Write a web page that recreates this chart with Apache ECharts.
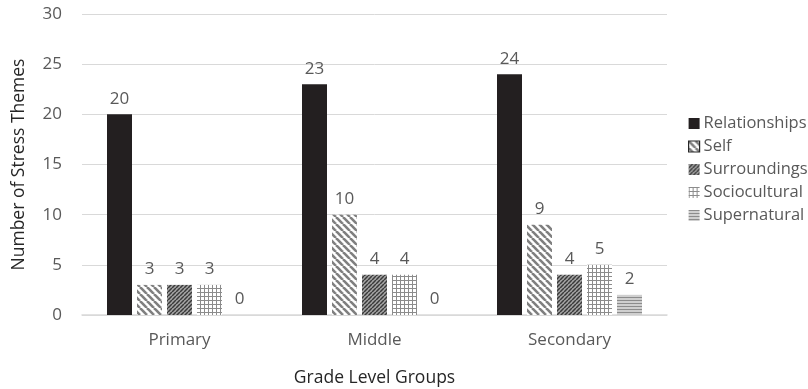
<!DOCTYPE html>
<html>
<head>
<meta charset="utf-8">
<script src="https://cdn.jsdelivr.net/npm/echarts@6/dist/echarts.min.js"></script>
<style>
html,body{margin:0;padding:0;background:#fff;}
#chart{width:808px;height:389px;}
</style>
</head>
<body>
<div id="chart"></div>
<script>
var categories = ['Primary', 'Middle', 'Secondary'];
var seriesNames = ['Relationships', 'Self', 'Surroundings', 'Sociocultural', 'Supernatural'];
var relationships = [20, 23, 24];
var self = [3, 10, 9];
var surroundings = [3, 4, 4];
var sociocultural = [3, 4, 5];
var supernatural = [0, 0, 2];
var yTicks = [0, 5, 10, 15, 20, 25, 30];

function makeTile(size, draw) {
  var c = document.createElement('canvas');
  c.width = size; c.height = size;
  var ctx = c.getContext('2d');
  ctx.fillStyle = '#ffffff';
  ctx.fillRect(0, 0, size, size);
  draw(ctx, size);
  return { image: c, repeat: 'repeat' };
}
var patSelf = makeTile(7, function (ctx, s) {
  ctx.strokeStyle = '#7f7f7f'; ctx.lineWidth = 2.6;
  for (var k = -1; k <= 1; k++) {
    ctx.beginPath(); ctx.moveTo(k * s, 0); ctx.lineTo(k * s + s, s); ctx.stroke();
  }
});
var patSurr = makeTile(4, function (ctx, s) {
  ctx.fillStyle = '#a6a6a6'; ctx.fillRect(0, 0, s, s);
  ctx.strokeStyle = '#3a3a3a'; ctx.lineWidth = 1.5;
  for (var k = -1; k <= 1; k++) {
    ctx.beginPath(); ctx.moveTo(k * s, s); ctx.lineTo(k * s + s, 0); ctx.stroke();
  }
});
var patSocio = makeTile(4, function (ctx, s) {
  ctx.fillStyle = '#8c8c8c';
  ctx.fillRect(0, 0, s, 1);
  ctx.fillRect(0, 0, 1, s);
});
var patSuper = makeTile(3, function (ctx, s) {
  ctx.fillStyle = '#cfcfcf'; ctx.fillRect(0, 0, s, s);
  ctx.fillStyle = '#8c8c8c';
  ctx.fillRect(0, 0, s, 1);
});

var colors = ['#231f20', patSelf, patSurr, patSocio, patSuper];
var dataArr = [relationships, self, surroundings, sociocultural, supernatural];
var FONT = 'Open Sans';

var series = seriesNames.map(function (n, i) {
  return {
    name: n,
    type: 'bar',
    data: dataArr[i],
    barWidth: 25,
    barGap: '20%',
    itemStyle: { color: colors[i] },
    label: {
      show: true, position: 'top', distance: 7,
      color: '#595959', fontSize: 17, fontFamily: FONT
    }
  };
});

var legendData = seriesNames.map(function (n, i) {
  var d = { name: n };
  if (i === 1) d.itemStyle = { borderColor: '#262626', borderWidth: 1.2 };
  return d;
});

var chart = echarts.init(document.getElementById('chart'));
chart.setOption({
  animation: false,
  backgroundColor: '#ffffff',
  grid: { left: 82, right: 141, top: 14, bottom: 74, outerBoundsMode: 'none', containLabel: false },
  legend: {
    orient: 'vertical', left: 683, top: 110,
    itemWidth: 11, itemHeight: 11, itemGap: 6,
    icon: 'rect',
    textStyle: { color: '#595959', fontSize: 16.5, fontFamily: FONT, padding: [0, 0, 0, -1] },
    data: legendData
  },
  xAxis: {
    type: 'category', data: categories,
    name: 'Grade Level Groups', nameLocation: 'middle', nameGap: 54,
    nameTextStyle: { color: '#262626', fontSize: 17.5, fontFamily: FONT },
    axisLine: { lineStyle: { color: '#d9d9d9', width: 1.5 } },
    axisTick: { show: false },
    axisLabel: { color: '#595959', fontSize: 17, fontFamily: FONT, margin: 17 }
  },
  yAxis: {
    type: 'value', min: yTicks[0], max: yTicks[yTicks.length - 1], interval: 5,
    name: 'Number of Stress Themes', nameLocation: 'middle', nameGap: 54,
    nameTextStyle: { color: '#262626', fontSize: 17.5, fontFamily: FONT },
    axisLine: { show: false }, axisTick: { show: false },
    splitLine: { lineStyle: { color: '#d9d9d9', width: 1 } },
    axisLabel: { color: '#595959', fontSize: 17, fontFamily: FONT, margin: 20 }
  },
  series: series
});
</script>
</body>
</html>
